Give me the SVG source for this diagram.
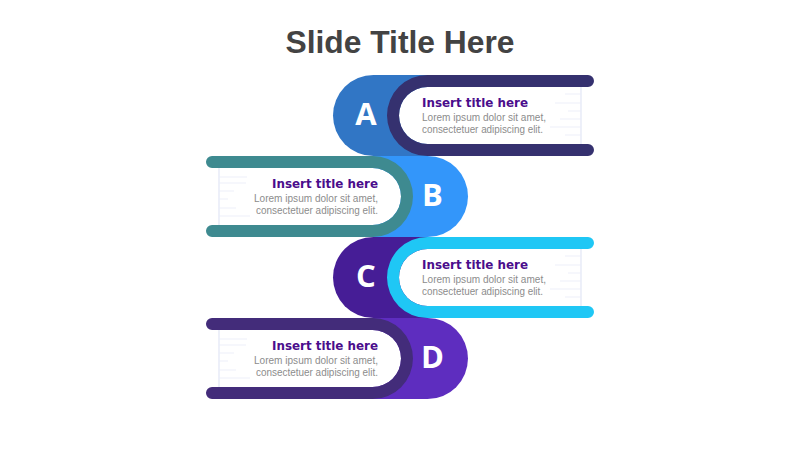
<svg xmlns="http://www.w3.org/2000/svg" width="800" height="450" viewBox="0 0 800 450">
<style>
.slide-title{font-family:"Liberation Sans",Arial,sans-serif;font-weight:bold;font-size:31px;fill:#434343}
.letter{font-family:"Open Sans","DejaVu Sans",sans-serif;font-weight:bold;font-size:31px;fill:#ffffff;text-anchor:middle}
.t{font-family:"DejaVu Sans","Liberation Sans",sans-serif;font-weight:bold;font-size:12.3px;fill:#4A0D8C}
.b{font-family:"Liberation Sans",Arial,sans-serif;font-size:11.2px;fill:#8c8c8c}
.page{fill:#ffffff}
.pl{stroke:#eef0fa;stroke-width:1.2;fill:none}
.pv{stroke:#e9ecf8;stroke-width:1.6;fill:none}
.end{text-anchor:end}
</style>
<rect width="800" height="450" fill="#ffffff"/>
<text class="slide-title" x="400" y="53" text-anchor="middle" textLength="229" lengthAdjust="spacingAndGlyphs">Slide Title Here</text>

<g id="node-a">
<path d="M373.5,75 H480 V156 H373.5 A40.5,40.5 0 0 1 373.5,75 Z" fill="#3176C5"/>
<path class="page" d="M427.5,87 H594 V144 H427.5 A28.5,28.5 0 0 1 427.5,87 Z"/>
<path class="pl" d="M565,94 H581 M555,103 H581 M568,111 H581 M560,119 H581 M550,127 H581 M565,135 H581"/>
<path class="pv" d="M581,87 V144"/>
<path d="M427.5,75 H588 A6,6 0 0 1 588,87 H427.5 A28.5,28.5 0 0 0 427.5,144 H588 A6,6 0 0 1 588,156 H427.5 A40.5,40.5 0 0 1 427.5,75 Z" fill="#35316F"/>
<text class="letter" x="366" y="125">A</text>
<text class="t" x="422" y="106.5" textLength="106" lengthAdjust="spacingAndGlyphs">Insert title here</text>
<text class="b" x="422" y="121.3" textLength="124" lengthAdjust="spacingAndGlyphs">Lorem ipsum dolor sit amet,</text>
<text class="b" x="422" y="133" textLength="121" lengthAdjust="spacingAndGlyphs">consectetuer adipiscing elit.</text>
</g>

<g id="node-b">
<path d="M427.5,156 A40.5,40.5 0 0 1 427.5,237 H300 V156 Z" fill="#3396FA"/>
<path class="page" d="M206,168 H372.5 A28.5,28.5 0 0 1 372.5,225 H206 Z"/>
<path class="pl" d="M219,177 H247 M219,183 H246 M219,191 H234 M219,199 H228 M219,208 H236 M219,216 H250"/>
<path class="pv" d="M219,168 V225"/>
<path d="M372.5,156 H212 A6,6 0 0 0 212,168 H372.5 A28.5,28.5 0 0 1 372.5,225 H212 A6,6 0 0 0 212,237 H372.5 A40.5,40.5 0 0 0 372.5,156 Z" fill="#3E8A90"/>
<text class="letter" x="432.5" y="206">B</text>
<text class="t end" x="378" y="187.5" textLength="106" lengthAdjust="spacingAndGlyphs">Insert title here</text>
<text class="b end" x="378" y="202.2" textLength="124" lengthAdjust="spacingAndGlyphs">Lorem ipsum dolor sit amet,</text>
<text class="b end" x="378" y="213.9" textLength="122" lengthAdjust="spacingAndGlyphs">consectetuer adipiscing elit.</text>
</g>

<g id="node-c">
<path d="M373.5,237 H480 V318 H373.5 A40.5,40.5 0 0 1 373.5,237 Z" fill="#461D96"/>
<path class="page" d="M427.5,249 H594 V306 H427.5 A28.5,28.5 0 0 1 427.5,249 Z"/>
<path class="pl" d="M565,256 H581 M555,265 H581 M568,273 H581 M560,281 H581 M550,289 H581 M565,297 H581"/>
<path class="pv" d="M581,249 V306"/>
<path d="M427.5,237 H588 A6,6 0 0 1 588,249 H427.5 A28.5,28.5 0 0 0 427.5,306 H588 A6,6 0 0 1 588,318 H427.5 A40.5,40.5 0 0 1 427.5,237 Z" fill="#1FC7F5"/>
<text class="letter" x="366" y="287">C</text>
<text class="t" x="422" y="268.5" textLength="106" lengthAdjust="spacingAndGlyphs">Insert title here</text>
<text class="b" x="422" y="283.3" textLength="124" lengthAdjust="spacingAndGlyphs">Lorem ipsum dolor sit amet,</text>
<text class="b" x="422" y="295" textLength="121" lengthAdjust="spacingAndGlyphs">consectetuer adipiscing elit.</text>
</g>

<g id="node-d">
<path d="M427.5,318 A40.5,40.5 0 0 1 427.5,399 H300 V318 Z" fill="#5E2DBF"/>
<path class="page" d="M206,330 H372.5 A28.5,28.5 0 0 1 372.5,387 H206 Z"/>
<path class="pl" d="M219,339 H247 M219,345 H246 M219,353 H234 M219,361 H228 M219,370 H236 M219,378 H250"/>
<path class="pv" d="M219,330 V387"/>
<path d="M372.5,318 H212 A6,6 0 0 0 212,330 H372.5 A28.5,28.5 0 0 1 372.5,387 H212 A6,6 0 0 0 212,399 H372.5 A40.5,40.5 0 0 0 372.5,318 Z" fill="#432C7A"/>
<text class="letter" x="432.5" y="368">D</text>
<text class="t end" x="378" y="349.5" textLength="106" lengthAdjust="spacingAndGlyphs">Insert title here</text>
<text class="b end" x="378" y="364.2" textLength="124" lengthAdjust="spacingAndGlyphs">Lorem ipsum dolor sit amet,</text>
<text class="b end" x="378" y="375.9" textLength="122" lengthAdjust="spacingAndGlyphs">consectetuer adipiscing elit.</text>
</g>

<g id="connectors"></g>
</svg>
